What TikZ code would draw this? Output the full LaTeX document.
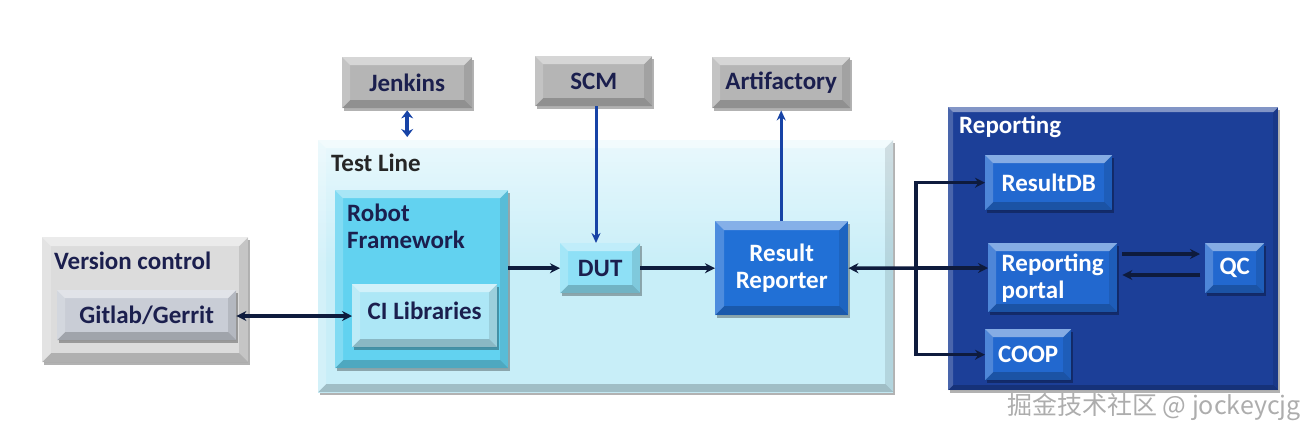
\documentclass[tikz,border=0pt]{standalone}
\usepackage{fontspec}
\setmainfont{Carlito}
\newfontfamily\cjkfont{Noto Sans CJK SC}
\usetikzlibrary{arrows.meta,shadows,calc}
\definecolor{navy}{HTML}{1B1F4E}
\definecolor{arrnavy}{HTML}{0E1B3D}
\definecolor{arrblue}{HTML}{1743A6}
\definecolor{grayA}{HTML}{B5B5B5}
\definecolor{vcgray}{HTML}{DCDCDC}
\definecolor{gitgray}{HTML}{C9CDD6}
\definecolor{tlcyan}{HTML}{C8EEF8}
\definecolor{rfcyan}{HTML}{62D2F0}
\definecolor{cilight}{HTML}{ADE7F6}
\definecolor{dutcyan}{HTML}{8EE0F6}
\definecolor{rrblue}{HTML}{2170D6}
\definecolor{repbg}{HTML}{1C3F98}
\definecolor{inblue}{HTML}{2268CF}
\tikzset{
  bevel/.style={path picture={
    \path (path picture bounding box.north west) coordinate (bnw)
          (path picture bounding box.north east) coordinate (bne)
          (path picture bounding box.south west) coordinate (bsw)
          (path picture bounding box.south east) coordinate (bse);
    \fill[white,opacity=.45] (bnw) -- (bne) -- ([xshift=-#1,yshift=-#1]bne) -- ([xshift=#1,yshift=-#1]bnw) -- cycle;
    \fill[white,opacity=.2] (bnw) -- ([xshift=#1,yshift=-#1]bnw) -- ([xshift=#1,yshift=#1]bsw) -- (bsw) -- cycle;
    \fill[black,opacity=.2] (bsw) -- ([xshift=#1,yshift=#1]bsw) -- ([xshift=-#1,yshift=#1]bse) -- (bse) -- cycle;
    \fill[black,opacity=.1] (bne) -- (bse) -- ([xshift=-#1,yshift=#1]bse) -- ([xshift=-#1,yshift=-#1]bne) -- cycle;
  }},
  base/.style={rectangle, inner sep=0pt, anchor=north west, align=center,
    font=\fontsize{25}{27}\selectfont\bfseries,
    drop shadow={shadow xshift=2pt,shadow yshift=-3pt,opacity=.3,fill=black}},
  graybox/.style={base, fill=grayA, bevel=8pt, text=navy},
  cyanbox/.style={base, bevel=8pt, text=navy},
  bluebox/.style={base, fill=inblue, bevel=8pt, text=white},
  lbl/.style={inner sep=0pt, anchor=west, font=\fontsize{25}{27}\selectfont\bfseries},
  navyarrow/.style={draw=arrnavy, line width=3.5pt, -{Stealth[length=10pt,width=10pt]}},
  bluearrow/.style={draw=arrblue, line width=3pt, -{Stealth[length=10pt,width=9pt]}},
}
\begin{document}
\begin{tikzpicture}[x=1pt,y=-1pt]
\useasboundingbox[fill=white] (0,0) rectangle (1315,437);

% Version control
\node[base, fill=vcgray, bevel=9pt, minimum width=206pt, minimum height=125pt] (vc) at (42,237) {};
\node[lbl, text=navy] (vclbl) at (54,261) {Version control};
\node[graybox, fill=gitgray, minimum width=179pt, minimum height=50pt] (git) at (57,290) {Gitlab/Gerrit};

% top boxes
\node[graybox, minimum width=130pt, minimum height=51pt] (jenkins) at (342,57) {Jenkins};
\node[graybox, minimum width=117pt, minimum height=50pt] (scm) at (535,56) {SCM};
\node[graybox, minimum width=138pt, minimum height=51pt] (art) at (712,57) {Artifactory};

% Test line
\node[base, top color=tlcyan!40, bottom color=tlcyan, middle color=tlcyan, bevel=8pt, minimum width=575pt, minimum height=252pt] (tl) at (318,140) {};
\node[lbl, text=black!85] (tllbl) at (331,163) {Test Line};
\node[cyanbox, fill=rfcyan, minimum width=173pt, minimum height=178pt] (rf) at (335,190) {};
\node[lbl, text=navy, align=left, anchor=north west] (rflbl) at (347,204) {Robot\\Framework};
\node[cyanbox, fill=cilight, text depth=10pt, minimum width=145pt, minimum height=63pt] (ci) at (352,284) {CI Libraries};
\node[cyanbox, fill=dutcyan, minimum width=80pt, minimum height=50pt] (dut) at (560,243) {DUT};
\node[base, fill=rrblue, bevel=9pt, text=white, minimum width=133pt, minimum height=94pt] (rr) at (715,221) {Result\\Reporter};

% Reporting
\node[base, fill=repbg, bevel=5pt, minimum width=330pt, minimum height=283pt] (rep) at (948,107) {};
\node[lbl, text=white] (replbl) at (959,127) {Reporting};
\node[bluebox, minimum width=127pt, minimum height=55pt] (rdb) at (985,155) {ResultDB};
\node[bluebox, align=left, minimum width=129pt, minimum height=69pt] (portal) at (988,243) {Reporting\\portal};
\node[bluebox, minimum width=59pt, minimum height=50pt] (qc) at (1205,243) {QC};
\node[bluebox, minimum width=86pt, minimum height=51pt] (coop) at (985,329) {COOP};

% connectors
\draw[draw=arrblue, line width=3.5pt, {Stealth[length=8pt,width=12pt]}-{Stealth[length=8pt,width=12pt]}]
  ([yshift=-2pt]jenkins.south) -- ([yshift=3pt]jenkins.south |- tl.north);
\draw[bluearrow] (596,106) coordinate (scmfoot) -- (scmfoot |- dut.north);
\draw[bluearrow] (rr.north -| art.south) -- ([yshift=-2pt]art.south);
\draw[navyarrow, {Stealth[length=10pt,width=10pt]}-{Stealth[length=10pt,width=10pt]}] (git.east |- 0,316) -- (ci.west |- 0,316);
\draw[navyarrow] (rf.east |- dut.west) -- (dut.west);
\draw[navyarrow] (dut.east) -- (rr.west |- dut.east);
\coordinate (split) at (916,268);
\draw[navyarrow] (split) -- (rr.east);
\draw[navyarrow] (split) |- (rdb.west);
\draw[navyarrow] (split) |- (coop.west);
\draw[navyarrow] (split) -- (split -| portal.west);
\draw[navyarrow, shorten <=5pt, shorten >=5pt] (portal.east |- 0,254) -- (qc.west |- 0,254);
\draw[navyarrow, shorten <=5pt, shorten >=5pt] (qc.west |- 0,275) -- (portal.east |- 0,275);

% watermark
\node[inner sep=0pt, anchor=east, text=black!32, font=\fontsize{25}{27}\selectfont] (wm) at (1301,407) {\cjkfont 掘金技术社区 @ jockeycjg};
\end{tikzpicture}
\end{document}
